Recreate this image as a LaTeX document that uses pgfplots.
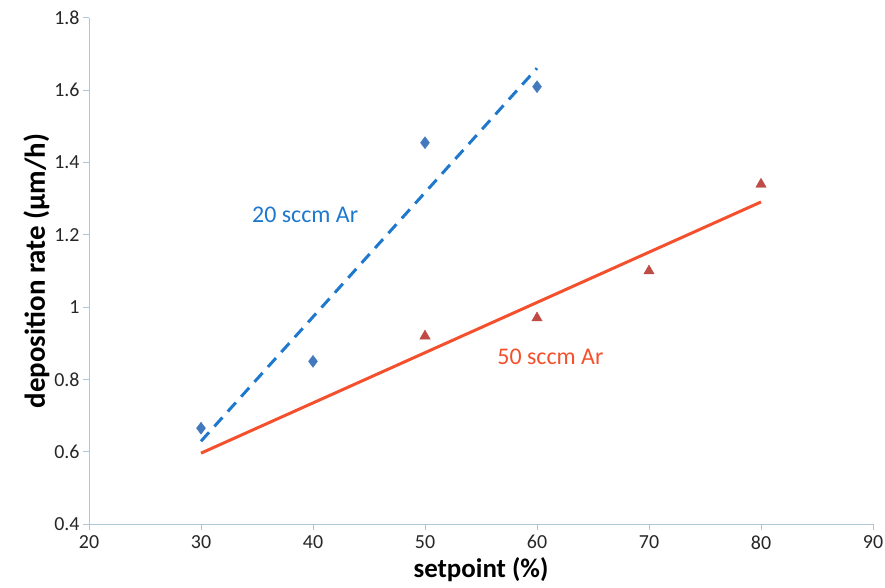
\documentclass[border=0pt]{standalone}
\usepackage{pgfplots}
\pgfplotsset{compat=1.18}
\usepackage{fontspec}
\setmainfont{Carlito}
\definecolor{axcol}{RGB}{175,198,215}
\definecolor{bluemk}{RGB}{65,120,190}
\definecolor{blueln}{RGB}{30,120,205}
\definecolor{redln}{RGB}{245,80,45}
\definecolor{redmk}{RGB}{190,75,70}
\begin{document}
\begin{tikzpicture}
\useasboundingbox (-89bp,-64bp) rectangle (796bp,524bp);
\begin{axis}[
  at={(0,0)}, anchor=south west,
  scale only axis, width=784bp, height=506bp,
  xmin=20, xmax=90, ymin=0.4, ymax=1.8,
  xtick={20,30,...,90}, ytick={0.4,0.6,...,1.8},
  axis lines=left, axis line style={axcol, line width=1pt, -},
  tick style={axcol, line width=1pt},
  tick align=outside, major tick length=6bp,
  /pgf/number format/assume math mode=true,
  ticklabel style={font=\fontsize{20}{23}\selectfont, text=black!85},
  xticklabel style={yshift=-2bp},
  yticklabel style={/pgf/number format/fixed},
  xlabel={\textbf{setpoint (\%)}},
  ylabel={\textbf{deposition rate (μm/h)}},
  label style={text=black},
  xlabel style={font=\fontsize{27}{30}\selectfont, yshift=-1bp},
  ylabel style={font=\fontsize{29}{32}\selectfont, yshift=-2bp},
  clip=false,
]
% 20 sccm Ar trendline
\addplot[blueln, line width=3pt, dash pattern=on 12bp off 8bp] coordinates {(30,0.629) (60,1.661)};
% 50 sccm Ar trendline
\addplot[redln, line width=3pt] coordinates {(30,0.596) (80,1.291)};
% data
\addplot[only marks, mark=diamond*, mark size=6bp, mark options={fill=bluemk, draw=bluemk}] coordinates {(30,0.665) (40,0.85) (50,1.455) (60,1.61)};
\addplot[only marks, mark=triangle*, mark size=6bp, mark options={fill=redmk, draw=redmk}] coordinates {(50,0.92) (60,0.97) (70,1.10) (80,1.34)};
\node[text=blueln, font=\fontsize{24}{28}\selectfont] at (axis cs:39.3,1.255) {20 sccm Ar};
\node[text=redln, font=\fontsize{24}{28}\selectfont] at (axis cs:61.2,0.862) {50 sccm Ar};
\end{axis}
\end{tikzpicture}
\end{document}
